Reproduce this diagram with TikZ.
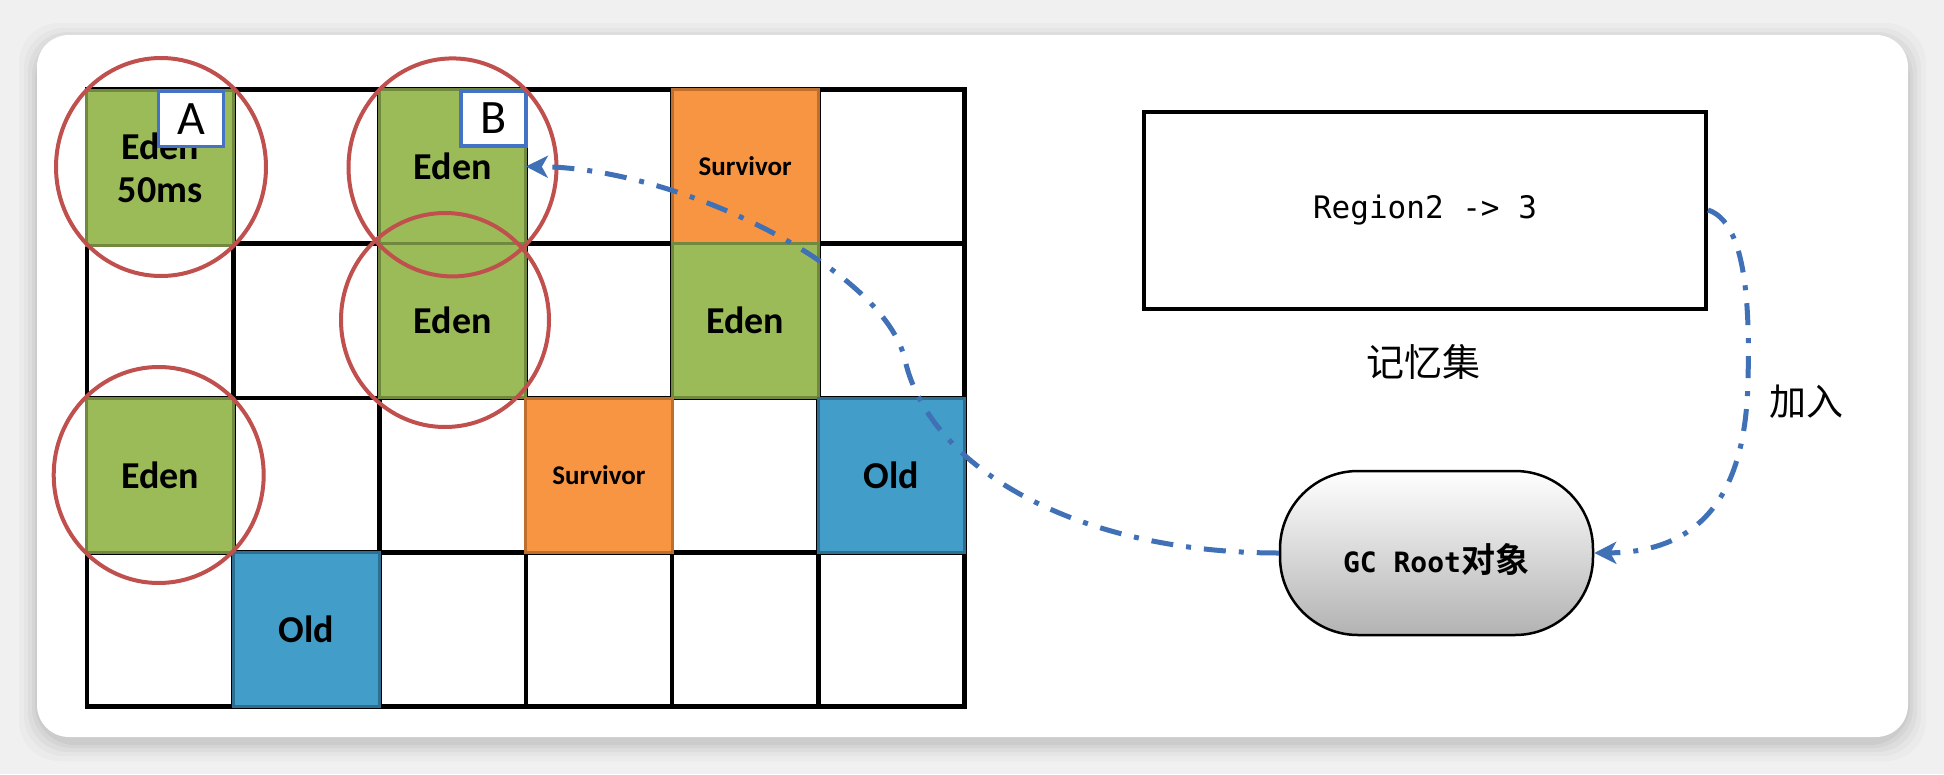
\documentclass[tikz,border=0pt]{standalone}
\usepackage{fontspec}
\setmainfont{Carlito}
\newfontfamily\cjk[BoldFont={Noto Sans CJK SC Bold}]{Noto Sans CJK SC}
\newfontfamily\monof{DejaVu Sans Mono}
\usetikzlibrary{arrows.meta,shapes.geometric}
\definecolor{edenfill}{RGB}{155,187,89}
\definecolor{edenline}{RGB}{113,137,63}
\definecolor{survfill}{RGB}{248,149,66}
\definecolor{survline}{RGB}{190,110,45}
\definecolor{oldfill}{RGB}{66,157,200}
\definecolor{oldline}{RGB}{45,110,145}
\definecolor{ringred}{RGB}{192,80,77}
\definecolor{tagblue}{RGB}{68,114,196}
\definecolor{arrblue}{RGB}{64,112,182}
\definecolor{bggray}{RGB}{240,240,240}
\tikzset{
  cellbox/.style={rectangle, minimum width=146.3pt, minimum height=154.3pt, inner sep=0pt, outer sep=0pt, line width=3pt, font=\fontsize{38}{43}\selectfont\bfseries, align=center},
  edencell/.style={cellbox, fill=edenfill, draw=edenline},
  survcell/.style={cellbox, fill=survfill, draw=survline, font=\fontsize{27}{30}\selectfont\bfseries},
  oldcell/.style={cellbox, fill=oldfill, draw=oldline},
  ring/.style={ellipse, draw=ringred, line width=4pt, inner sep=0pt},
  tagbox/.style={rectangle, fill=white, draw=tagblue, line width=3.5pt, minimum width=65pt, minimum height=55pt, inner sep=0pt, font=\fontsize{48}{50}\selectfont},
  gridline/.style={line width=4.5pt, black},
  flow/.style={arrblue, line width=5pt, dash pattern=on 22pt off 13pt on 5pt off 13pt, -{Stealth[length=22pt,width=22pt,inset=6pt]}},
}
\begin{document}
\begin{tikzpicture}[x=1pt,y=-1pt]
\useasboundingbox (0,0) rectangle (1944,774);
% background and panel
\fill[bggray] (0,0) rectangle (1944,774);
\foreach \i/\o in {18/0.02,13/0.025,9/0.03,5/0.035,2/0.04}{
  \fill[black, opacity=\o, rounded corners=40pt] (37-\i,35-\i+6) rectangle (1908+\i,737+\i+6);
}
\fill[white, rounded corners=32pt] (37,35) rectangle (1908,737);

% grid
\draw[gridline] (87,89.3) rectangle (964.6,706.7);
\foreach \c in {1,...,5}{
  \draw[gridline] ({87+146.27*\c},89.3) -- ({87+146.27*\c},706.7);
}
\foreach \r in {1,2,3}{
  \draw[gridline] (87,{89.3+154.35*\r}) -- (964.6,{89.3+154.35*\r});
}

% coloured regions
\node[edencell] (e1) at (160.1,168) {Eden\\50ms};
\node[edencell] (e2) at (452.7,166.5) {Eden};
\node[survcell] (s1) at (745.2,166.5) {Survivor};
\node[edencell] (e3) at (452.7,320.8) {Eden};
\node[edencell] (e4) at (745.2,320.8) {Eden};
\node[edencell] (e5) at (160.1,475.2) {Eden};
\node[survcell] (s2) at (598.9,475.2) {Survivor};
\node[oldcell] (o1) at (891.5,475.2) {Old};
\node[oldcell] (o2) at (306.4,629.5) {Old};

% tags
\node[tagbox] (ta) at (191,119) {A};
\node[tagbox] (tb) at (493.5,118.5) {B};

% red rings
\node[ring, minimum width=210pt, minimum height=218pt] (ra) at (161,167) {};
\node[ring, minimum width=208pt, minimum height=218pt] (rb) at (452.5,167.4) {};
\node[ring, minimum width=208pt, minimum height=214pt] (rc) at (445,320) {};
\node[ring, minimum width=210pt, minimum height=216pt] (rd) at (158.7,475) {};

% right side
\node[draw, line width=4pt, minimum width=562pt, minimum height=197pt, inner sep=0pt, font=\monof\fontsize{31}{34}\selectfont] (rs) at (1425,210) {Region2 -> 3};
\node[font=\cjk\fontsize{38}{40}\selectfont] (rsl) at (1423,362) {记忆集};
\node[rectangle, rounded corners=78pt, draw, line width=2.5pt, top color=white, bottom color=black!30, minimum width=313pt, minimum height=164pt, inner sep=0pt] (gc) at (1436.5,553) {};
\node (gct) at (1436,559) {{\monof\bfseries\fontsize{28}{32}\selectfont GC Root}{\cjk\bfseries\fontsize{34}{36}\selectfont 对象}};
\node[font=\cjk\fontsize{37}{40}\selectfont] (jr) at (1806,402) {加入};

% connectors
\draw[flow] (gc.west) .. controls (1080,553) and (930,470) .. (905,360)
  .. controls (885,270) and (680,168) .. (e2.east);
\draw[flow] (rs.east) .. controls (1745,222) and (1750,300) .. (1748,380)
  .. controls (1746,480) and (1712,552) .. (gc.east);
\end{tikzpicture}
\end{document}
